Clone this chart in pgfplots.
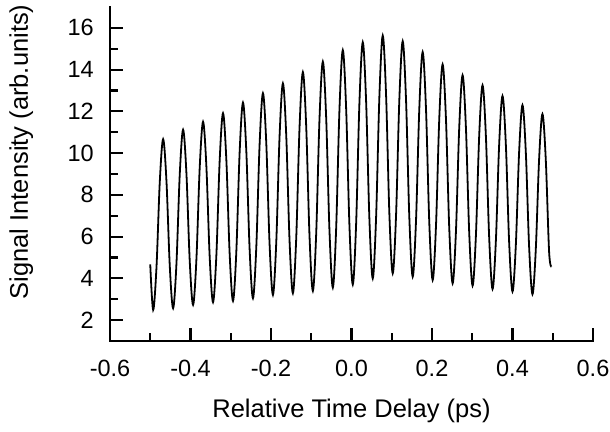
\documentclass[border=0pt]{standalone}
\usepackage{fontspec}
\setmainfont{Liberation Sans}
\usepackage{pgfplots}
\pgfplotsset{compat=1.18}
\begin{document}
\begin{tikzpicture}
\begin{axis}[
  scale only axis, width=483pt, height=334pt,
  xmin=-0.6, xmax=0.6, ymin=1, ymax=17,
  axis x line=bottom, axis y line=left,
  axis line style={-, line width=2.8pt, line cap=rect},
  tick align=inside,
  xtick={-0.6,-0.4,-0.2,0,0.2,0.4,0.6},
  xticklabels={-0.6,-0.4,-0.2,0.0,0.2,0.4,0.6},
  ytick={2,4,6,8,10,12,14,16},
  yticklabels={2,4,6,8,10,12,14,16},
  minor x tick num=1, minor y tick num=1,
  major tick length=13pt, minor tick length=8pt,
  every tick/.style={black, line width=2.2pt},
  tick label style={font=\fontsize{23.5}{28}\selectfont},
  xticklabel style={anchor=base, inner sep=0pt, yshift=-35.7pt},
  yticklabel style={anchor=east, inner sep=0pt, xshift=-16pt},
  label style={font=\fontsize{25.5}{30}\selectfont},
  xlabel={Relative Time Delay (ps)},
  ylabel={Signal Intensity (arb.units)},
  xlabel style={at={(axis description cs:0.5,-0.2305)}, anchor=base, inner sep=0pt},
  ylabel style={at={(axis description cs:-0.170,0.566)}, anchor=base, inner sep=0pt},
  clip=false,
]
\addplot[black, line width=1.8pt, smooth, tension=0.55] coordinates {
(-0.5000,4.67) (-0.4928,2.49) (-0.4845,4.54) (-0.4763,8.63)
(-0.4680,10.67) (-0.4597,8.65) (-0.4515,4.60) (-0.4432,2.57) (-0.4349,4.71) (-0.4267,8.98)
(-0.4184,11.12) (-0.4101,9.02) (-0.4019,4.83) (-0.3936,2.73) (-0.3853,4.92) (-0.3771,9.31)
(-0.3688,11.50) (-0.3605,9.34) (-0.3523,5.02) (-0.3440,2.86) (-0.3357,5.12) (-0.3275,9.65)
(-0.3192,11.91) (-0.3109,9.66) (-0.3027,5.17) (-0.2944,2.92) (-0.2861,5.30) (-0.2779,10.05)
(-0.2696,12.42) (-0.2613,10.08) (-0.2531,5.39) (-0.2448,3.05) (-0.2365,5.51) (-0.2283,10.42)
(-0.2200,12.87) (-0.2117,10.46) (-0.2035,5.63) (-0.1952,3.21) (-0.1869,5.74) (-0.1787,10.81)
(-0.1704,13.34) (-0.1621,10.83) (-0.1539,5.80) (-0.1456,3.29) (-0.1373,5.94) (-0.1291,11.23)
(-0.1208,13.88) (-0.1125,11.26) (-0.1043,6.02) (-0.0960,3.40) (-0.0877,6.15) (-0.0795,11.64)
(-0.0712,14.38) (-0.0629,11.68) (-0.0547,6.27) (-0.0464,3.56) (-0.0381,6.40) (-0.0299,12.09)
(-0.0216,14.93) (-0.0133,12.13) (-0.0051,6.52) (0.0032,3.71) (0.0115,6.61) (0.0197,12.41)
(0.0280,15.31) (0.0363,12.48) (0.0445,6.83) (0.0528,4.00) (0.0611,6.91) (0.0693,12.72)
(0.0776,15.63) (0.0859,12.78) (0.0941,7.09) (0.1024,4.24) (0.1107,7.02) (0.1189,12.58)
(0.1272,15.36) (0.1355,12.54) (0.1437,6.90) (0.1520,4.08) (0.1603,6.77) (0.1685,12.15)
(0.1768,14.84) (0.1851,12.11) (0.1933,6.65) (0.2016,3.92) (0.2099,6.50) (0.2181,11.67)
(0.2264,14.25) (0.2347,11.63) (0.2429,6.38) (0.2512,3.76) (0.2595,6.25) (0.2677,11.24)
(0.2760,13.73) (0.2843,11.21) (0.2925,6.17) (0.3008,3.65) (0.3091,6.05) (0.3173,10.85)
(0.3256,13.25) (0.3339,10.81) (0.3421,5.93) (0.3504,3.49) (0.3587,5.80) (0.3669,10.43)
(0.3752,12.74) (0.3835,10.40) (0.3917,5.71) (0.4000,3.37) (0.4083,5.60) (0.4165,10.07)
(0.4248,12.30) (0.4331,10.04) (0.4413,5.51) (0.4496,3.24) (0.4579,5.40) (0.4661,9.71)
(0.4744,11.87) (0.4827,9.68) (0.4909,5.29) (0.4967,4.56)
};
\end{axis}
\pgfresetboundingbox
\path (-110pt,-90pt) rectangle (500pt,341pt);
\end{tikzpicture}
\end{document}
